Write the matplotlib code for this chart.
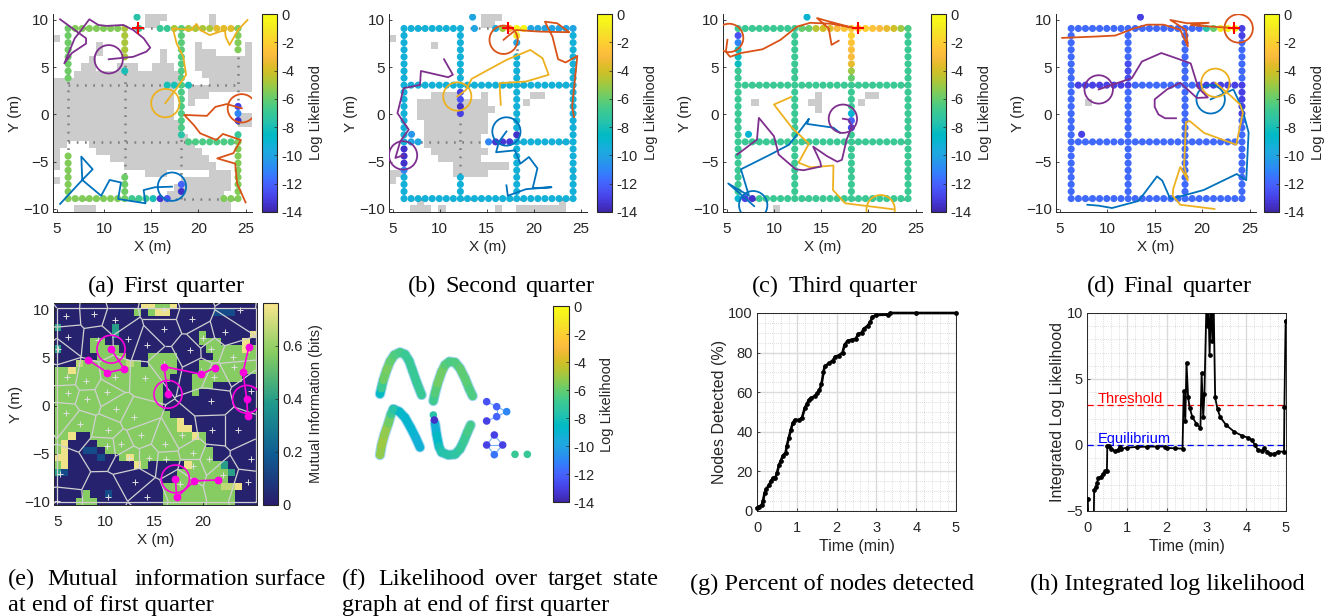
import numpy as np
import matplotlib
matplotlib.use('Agg')
import matplotlib.pyplot as plt
import matplotlib.tri as mtri
from matplotlib.colors import ListedColormap, LinearSegmentedColormap, Normalize
from matplotlib.collections import LineCollection
from matplotlib.colorbar import Colorbar
from matplotlib.patches import Circle

plt.rcParams['font.family'] = ['Liberation Sans', 'DejaVu Sans']

W, H = 1335, 616
DARK = (0.15, 0.15, 0.15)
BLUE = (0.0, 0.447, 0.741)
ORANGE = (0.85, 0.325, 0.098)
YELLOW = (0.929, 0.694, 0.125)
PURPLE = (0.494, 0.184, 0.556)
MAGENTA = (1.0, 0.0, 0.87)

parula_colors = [
    (.2422, .1504, .6603), (.2647, .1978, .7952), (.2783, .2559, .8991), (.2810, .3228, .9579),
    (.2699, .3892, .9906), (.2206, .4603, .9973), (.1786, .5289, .9682), (.1540, .5902, .9218),
    (.1248, .6459, .8883), (.0952, .6798, .8598), (.0297, .7082, .8163), (.0067, .7312, .7660),
    (.0964, .7500, .7120), (.1717, .7670, .6554), (.2161, .7843, .5923), (.2906, .7973, .5188),
    (.3909, .8029, .4354), (.5044, .7993, .3480), (.6174, .7876, .2612), (.7242, .7698, .1910),
    (.8203, .7498, .1535), (.9035, .7330, .1774), (.9728, .7298, .2394), (.9970, .7659, .2199),
    (.9892, .8136, .1885), (.9676, .8639, .1643), (.9597, .9135, .1423), (.9691, .9606, .1064),
    (.9769, .9839, .0805)]
parula = LinearSegmentedColormap.from_list('parula', parula_colors, N=256)
mi_cmap = LinearSegmentedColormap.from_list('mi', [(0.16, 0.11, 0.42), (0.06, 0.36, 0.58), (0.12, 0.60, 0.55),
                                                   (0.52, 0.80, 0.38), (0.98, 0.90, 0.55)])
ll_norm = Normalize(-14, 0)

# occupancy cells per row: (first col, last col)
gray_a = {0: [(13, 15), (22, 22)], 1: [(13, 14), (22, 22)], 3: [(0, 0)], 4: [(6, 6), (20, 20), (27, 27)],
          5: [(6, 6), (15, 15), (20, 22), (27, 27)], 6: [(5, 5), (15, 15), (20, 27)],
          7: [(4, 5), (9, 11), (14, 16), (20, 27)], 8: [(3, 17), (21, 27)], 9: [(0, 17), (22, 27)],
          10: [(0, 16), (19, 27)], 11: [(0, 16), (19, 21)], 12: [(0, 16), (19, 19)], 13: [(0, 16)],
          14: [(0, 16), (26, 27)], 15: [(0, 17), (26, 27)], 16: [(0, 17)], 17: [(0, 18)],
          18: [(0, 1), (5, 19)], 19: [(0, 0), (6, 20)], 20: [(0, 0), (8, 21)], 21: [(0, 0), (10, 22)],
          22: [(13, 15), (22, 24)], 23: [(0, 0), (18, 24)], 24: [(17, 24)], 25: [(16, 23)],
          26: [(15, 24)], 27: [(3, 5), (15, 24)]}
gray_b = {0: [(13, 15)], 1: [(13, 14)], 3: [(0, 0)], 4: [(6, 6)], 11: [(6, 9), (13, 13), (20, 21)],
          12: [(4, 13), (19, 19)], 13: [(4, 14)], 14: [(4, 13)], 15: [(5, 13)], 16: [(5, 13)], 17: [(5, 12)],
          18: [(5, 12)], 19: [(6, 13)], 20: [(7, 12)], 21: [(9, 16)], 22: [(0, 1), (9, 13)], 23: [(0, 0)],
          26: [(4, 4), (24, 24)], 27: [(3, 5), (7, 7), (15, 15), (18, 24)]}
gray_c = {11: [(13, 13), (20, 21)], 12: [(4, 4), (12, 13), (19, 19)], 13: [(13, 13)], 27: [(7, 7)]}
gray_d = {12: [(4, 4)]}

# (x0, y0, x1, y1, log likelihood); None removes the nodes
nodes_a = [(6.2, 9.1, 12.2, 9.1, -5.5), (13.7, 9.1, 13.7, 9.1, -7), (15.95, 9.1, 16.7, 9.1, -7),
           (17.45, 9.1, 21.2, 9.1, -4.8), (21.95, 9.1, 23.45, 9.1, -3.6), (24.2, 9.1, 24.2, 9.1, -5),
           (6.2, 9.1, 6.2, 3.85, -5.8), (6.2, -4.4, 6.2, -8.9, -5.5), (6.2, -8.9, 11.45, -8.9, -5.5),
           (12.2, -8.9, 14.45, -8.9, -6.8), (15.2, -8.9, 15.2, -8.9, -8), (15.95, -8.9, 15.95, -8.9, -13.3),
           (16.7, -8.9, 16.7, -8.9, -12.5), (22.7, -8.9, 24.2, -8.9, -5.5), (12.2, 9.1, 12.2, 6.1, -4.8),
           (12.2, 4.6, 12.2, 4.6, -8), (12.2, -6.65, 12.2, -8.9, -5.8), (18.2, 9.1, 18.2, 6.85, -6.2),
           (18.2, 6.1, 18.2, 3.85, -6.5), (18.2, 3.1, 18.2, -1.4, -6.5), (18.2, -2.15, 18.2, -2.15, -7.5),
           (18.2, -7.4, 18.2, -7.4, -12), (18.2, -8.15, 18.2, -8.15, -13.5), (16.7, 3.1, 17.45, 3.1, -8),
           (18.95, 3.1, 18.95, 3.1, -8), (18.95, -2.9, 24.2, -2.9, -6.5), (24.2, 9.1, 24.2, 6.85, -5.5),
           (24.2, 0.85, 24.2, 0.85, -13), (24.2, 0.1, 24.2, 0.1, -11), (24.2, -0.65, 24.2, -0.65, -13.5),
           (24.2, -2.15, 24.2, -2.15, -7), (24.2, -2.9, 24.2, -8.9, -5.5), (13.5, 10.3, 13.5, 10.3, -7.5)]
nodes_b = [(12.95, 9.1, 12.95, 9.1, None), (14.45, 9.1, 15.2, 9.1, None), (13.7, 9.1, 13.7, 9.1, -10),
           (15.95, 9.1, 15.95, 9.1, -9.5), (16.7, 9.1, 16.7, 9.1, -5), (17.45, 9.1, 17.45, 9.1, -3),
           (18.2, 9.1, 18.95, 9.1, -0.3), (19.7, 9.1, 24.2, 9.1, -10), (18.2, 8.35, 18.2, 8.35, -1),
           (18.2, 7.6, 18.2, 7.6, -10), (18.2, 6.85, 18.2, 6.85, None), (12.2, 2.35, 12.2, 2.35, -13),
           (12.2, 1.6, 12.2, 1.6, -12.5), (12.2, 0.85, 12.2, 0.85, -13.5), (12.2, 0.1, 12.2, 0.1, -13),
           (12.2, -0.65, 12.2, -5.9, None), (8.45, -2.9, 14.45, -2.9, None), (6.95, -2.9, 7.7, -2.9, -10),
           (15.2, -2.9, 15.2, -2.9, -11), (15.95, -2.9, 17.45, -2.9, -13.3), (18.2, -2.15, 18.2, -2.15, -13.5),
           (6.2, -3.65, 6.2, -5.15, -13.5), (6.2, -5.9, 6.2, -5.9, -11), (7.0, -2.1, 7.0, -2.1, -10.5),
           (13.5, 10.3, 13.5, 10.3, -10)]
nodes_c = [(12.95, 9.1, 13.7, 9.1, -6), (14.45, 9.1, 14.45, 9.1, -4.5), (15.2, 9.1, 15.2, 9.1, -4),
           (15.95, 9.1, 15.95, 9.1, -3.7), (16.7, 9.1, 16.7, 9.1, -3), (17.45, 9.1, 18.2, 9.1, -2.5),
           (18.95, 9.1, 18.95, 9.1, -1.5), (19.7, 9.1, 19.7, 9.1, -2), (20.45, 9.1, 20.45, 9.1, -2.5),
           (21.2, 9.1, 21.2, 9.1, -3), (21.95, 9.1, 21.95, 9.1, -3.5), (22.7, 9.1, 22.7, 9.1, -4),
           (23.45, 9.1, 23.45, 9.1, -5), (24.2, 9.1, 24.2, 9.1, -6.5), (18.2, 8.35, 18.2, 8.35, -2),
           (18.2, 7.6, 18.2, 7.6, -2.5), (18.2, 6.85, 18.2, 6.85, -2.8), (18.2, 6.1, 18.2, 6.1, -3),
           (18.2, 5.35, 18.2, 5.35, -3.5), (18.2, 4.6, 18.2, 4.6, -5), (18.2, 3.85, 18.2, 3.85, -6),
           (18.2, 0.1, 18.2, 0.1, -9), (18.2, -0.65, 18.2, -0.65, -12), (18.2, -1.4, 18.2, -1.4, -13),
           (6.2, 8.35, 6.2, 8.35, -12.5), (6.2, 7.6, 6.2, 7.6, -11), (6.2, 6.85, 6.2, 5.35, -8.3),
           (7.3, -2.1, 7.3, -2.1, -9), (13.5, 10.3, 13.5, 10.3, -9), (6.2, -8.9, 6.2, -8.9, -9),
           (6.95, -8.9, 6.95, -8.9, -13), (7.7, -8.9, 7.7, -8.9, -13.5)]
nodes_d = [(6.95, 3.1, 12.2, 3.1, -13), (19.7, 3.1, 24.2, 3.1, -13), (24.2, 3.1, 24.2, 0.1, -13),
           (12.2, 5.35, 12.2, 3.85, -12.6), (24.2, 9.1, 24.2, 8.35, -13), (20.45, 9.1, 20.45, 9.1, -7.5),
           (21.2, 9.1, 21.2, 9.1, -6), (21.95, 9.1, 21.95, 9.1, -1), (22.7, 9.1, 23.45, 9.1, -0.5),
           (13.5, 10.3, 13.5, 10.3, -13), (7.3, -2.1, 7.3, -2.1, -13)]
base_b, base_c, base_d = -9.3, -6.9, -11.8

lattice_x = [6.2, 12.2, 18.2, 24.2]
lattice_y = [-8.9, -2.9, 3.1, 9.1]

paths_a = {
    'purple': [(5.35, 10.07), (8.1, 8.06), (8.1, 7.5), (6.6, 6.5), (5.8, 5.4), (6.9, 8.06), (7.47, 8.77), (8.45, 10.07),
               (9.4, 9.47), (10.3, 9.37), (12.05, 9.47), (13.1, 8.94), (14.2, 8.06), (14.9, 7.07), (14.5, 6.65),
               (13.1, 6.1), (10.5, 5.84)],
    'yellow': [(25.2, 10), (24.2, 8.94), (23.3, 7.35), (22.9, 8.2), (22.8, 8.94), (21.2, 8.4), (20.2, 8.94), (19.8, 9.58),
               (19.3, 8.94), (17.3, 9.1), (17.7, 7.5), (18.4, 6.1), (18.7, 4.2), (17.7, 2.77), (16.5, 1.2)],
    'orange': [(25, -9.3), (24.1, -7.3), (23.9, -5.2), (22, -4.65), (23.7, -4.1), (24.5, -2.7), (22.6, -2.06), (21.9, -2.7),
               (20.2, -2), (19.5, -1.1), (18.5, -0.05), (20.9, -0.15), (21.8, 0.8), (23, 1.1), (24.6, 0.65)],
    'blue': [(5.35, -9.47), (7.7, -6.93), (7.6, -4.46), (8.8, -5.8), (7.7, -6.93), (9.7, -8.6), (10.6, -6.93), (11.8, -7.2),
             (11.5, -8.94), (14.4, -9.4), (14.2, -8), (15.4, -7.7), (17.2, -7.64)]}
paths_b = {
    'purple': [(10.46, 5.84), (11.4, 4.2), (10.9, 3.94), (8, 4.6), (7.9, 3.13), (6.16, 2.78), (5.5, 0.14), (6.7, -1.6),
               (5.8, -2.85), (5.28, -4.6), (6.1, -4.33)],
    'yellow': [(16.5, 1.02), (16.37, 3.31), (19.2, 3.49), (21.6, 4.2), (20.95, 5.95), (19.65, 6.83), (17.1, 5.77),
               (13.4, 3.77), (12.8, 2.6), (11.87, 1.9)],
    'orange': [(24.3, -0.28), (24.1, 0.85), (24.65, 6.2), (23.4, 5.5), (22.6, 5.85), (22, 8.24), (21.2, 9.82), (22.5, 9.65),
               (23.8, 8.7), (20.6, 8.77), (18.1, 8.94), (17.4, 8.4), (16.8, 7.9)],
    'blue': [(17.1, -7.5), (17.25, -8.6), (19.2, -7.9), (21.9, -7.7), (19.9, -7.8), (20.4, -5.7), (19.5, -4.5), (18.6, -5.2),
             (18, -3.8), (16, -4), (16.3, -2.9), (17.1, -1.8)]}
paths_c = {
    'purple': [(6.1, -4.25), (8.2, -2.65), (8.4, -0.36), (10, -2.3), (10.5, -4.25), (12.3, -5.8), (13.15, -5.9), (15, -5.5),
               (14.9, -5), (14.15, -3.4), (15.6, -4.4), (16.7, -5), (17.2, -4.8), (17.7, -2.65), (18.25, -1.25),
               (17.9, -0.55), (17.3, -0.45)],
    'yellow': [(11.8, 1.85), (10, 1.05), (11.9, -1.4), (13.7, -3.1), (12.6, -5.1), (13.85, -5.6), (16.3, -5.4), (16.25, -8),
               (17.55, -9.4), (22.6, -10.03)],
    'orange': [(16.85, 7.8), (16.1, 7.36), (15.8, 9.1), (14.56, 10.2), (15.6, 9.9), (18.25, 9.2), (16, 9.6), (13.85, 9.7),
               (12.45, 9.3), (10.7, 7.9), (8.8, 6.9), (6.5, 6.5), (5.35, 6.1), (4.9, 6.65), (5.07, 7.9)],
    'blue': [(17, -1.95), (16.3, -1.4), (13.5, -1), (13.7, -0.45), (13, -1.4), (11.6, -3.2), (9.6, -4.25), (6.5, -5.8),
             (7.35, -8.6), (5.15, -7.3), (7, -8.9), (7.9, -9.7)]}
paths_d = {
    'purple': [(17.25, -0.4), (16.1, -0.4), (15.4, 0), (15, 0.8), (15, 1.6), (16.3, 2.65), (17.7, 3.35), (19.45, 1.75),
               (20.6, 1.8), (19.6, 2.8), (18.8, 5.4), (17, 6.05), (15.7, 6.5), (13.65, 5.6), (12.6, 3.85), (9.1, 2.65)],
    'yellow': [(21.3, -10), (17.7, -9.55), (16.9, -8.6), (16.95, -7.9), (17.7, -5.55), (18.5, -7), (18.1, -5.45), (18.3, -0.8),
               (18.7, -0.7), (20.2, -1.95), (23.6, -3.2), (24.3, 0.2), (24, 1.05), (23.1, 1.9), (21.4, 3.35)],
    'orange': [(5.25, 8.1), (8.9, 8.25), (10.85, 8.35), (12.8, 9.1), (14.2, 9.5), (15.95, 9.5), (17.7, 8.95), (18.5, 7.2),
               (18.3, 8.95), (16.65, 10), (18.4, 9.65), (20.7, 9.7), (18.8, 9.45), (23.85, 9.1)],
    'blue': [(7.9, -9.55), (9.1, -9.65), (10.5, -9.9), (13.3, -9.15), (15.25, -6.55), (15.8, -7), (16.65, -8.95), (20.15, -8),
             (23.65, -6.3), (24.65, -6.95), (24.9, -1.9), (24.2, 0.7), (23.3, 2.65), (20.9, 1.6)]}
circles_a = {'purple': (10.5, 5.84), 'yellow': (16.5, 1.2), 'orange': (24.6, 0.65), 'blue': (17.2, -7.64)}
circles_b = {'purple': (6.1, -4.33), 'yellow': (11.87, 1.9), 'orange': (16.8, 7.9), 'blue': (17.1, -1.8)}
circles_c = {'purple': (17.3, -0.45), 'yellow': (21.3, -10.03), 'orange': (5.25, 8.1), 'blue': (7.8, -9.6)}
circles_d = {'purple': (9.1, 2.65), 'yellow': (21.4, 3.35), 'orange': (23.85, 9.1), 'blue': (20.9, 1.6)}
cross_a, cross_b, cross_c, cross_d = (13.6, 9.1), (17.25, 9.1), (18.85, 9.1), (23.4, 9.1)

# mutual information cells: g green, l light, y pale yellow, t teal, b blue, . low
mi_rows = ['............yyggy...........',
           '...........g.gyy......bbb...',
           '............................',
           't.......t...................',
           '........t...........g......y',
           '.....gg.............ggg...y.',
           't....gggg............gggggyg',
           '......gggg...gggg.....gggggg',
           '...lgggggglg.gggg...gggggggg',
           'ggygggggggggggggg...gggggggg',
           'gggggggggggggggg...ggggggg..',
           'ggggggggggggggg....ggg......',
           'ggggggggggggggg....g........',
           'ggggggggggggggg.............',
           'ggggggggggggggg.............',
           'gggggggggggggggg............',
           'gggggggggggggggggy..........',
           'gggggggggggggggggyy.........',
           'ggy..ggggggggggggggyg.......',
           'gy....ggggggggggggggg.......',
           'gy..bb.ggggggggggggggg......',
           'yy....b..gyggggggggggg......',
           'gy.........yg.....yggggt....',
           'tb...............gggggggt...',
           '.................ggggggg....',
           '...............gggggggglly..',
           '....g..b.......gggggggggg...',
           '...ggg.........gggggggggg...']
mi_levels = {'.': 0.02, 'b': 0.14, 't': 0.40, 'g': 0.575, 'l': 0.66, 'y': 0.74}
voronoi_sites = [(5.9, 9.4), (8.8, 9.6), (16.0, 10.0), (18.9, 9.1), (23.8, 10.0), (11.0, 8.9), (16.0, 8.0), (12.3, 7.0),
                 (9.2, 6.9), (6.1, 7.2), (5.1, 5.9), (14.3, 6.3), (18.7, 5.8), (20.0, 7.1), (20.9, 5.9), (23.1, 5.1),
                 (22.3, 7.7), (16.0, 4.4), (14.0, 2.9), (11.0, 3.0), (6.0, 3.0), (8.0, 2.6), (6.1, 1.3), (10.1, 1.4),
                 (5.9, -0.8), (8.1, 0.7), (11.1, -0.3), (12.9, -1.2), (7.3, -1.9), (10.2, -2.5), (13.6, -3.1),
                 (11.6, -4.0), (16.1, -4.0), (10.1, -4.2), (17.9, -3.0), (20.9, 0.5), (21.0, -2.5), (23.6, -2.5),
                 (19.0, -4.9), (12.4, -5.4), (14.5, -5.4), (20.7, -5.6), (16.2, -5.6), (25.0, -5.5), (5.3, -7.1),
                 (13.0, -8.0), (24.7, -8.0), (17.7, -8.2), (14.3, -9.5), (10.2, -9.5), (22.1, -7.2), (19.0, -6.3),
                 (21.2, 3.0), (19.8, 3.6), (23.2, 4.0), (25.0, 1.5), (5.0, -9.9)]
mag_paths = [[(10.54, 5.9), (11.91, 3.84), (10.16, 3.46), (8.2, 4.78)],
             [(16.42, 1.2), (16.0, 4.09), (19.86, 3.29), (21.27, 3.98)],
             [(24.64, -1.03), (24.54, 0.68), (24.16, 3.5), (24.75, 6.1)],
             [(17.18, -7.63), (17.32, -9.55), (19.14, -7.84), (21.58, -7.74)]]

# layout of the state graph: (x, y, log likelihood)
arch_1 = [(120, 297, -9.5), (124, 280, -7.5), (130, 255, -6.2), (140, 225, -5.5), (150, 200, -5.8), (163, 180, -6.3),
          (180, 172, -6.5), (195, 178, -6.8), (207, 197, -7), (217, 225, -7), (230, 262, -7), (245, 300, -7)]
arch_2 = [(280, 318, -7), (285, 295, -6.5), (293, 265, -6), (305, 230, -5.5), (315, 210, -6), (328, 200, -6.5),
          (345, 202, -6.5), (360, 220, -6.2), (375, 250, -6), (388, 282, -6.3), (398, 303, -6.5)]
arch_3 = [(120, 480, -5.5), (125, 450, -5), (133, 420, -5), (145, 385, -5.5), (153, 358, -6.2), (160, 342, -7.5),
          (178, 350, -8.5), (195, 368, -8.8), (212, 398, -9), (228, 430, -9), (240, 457, -9.5)]
arch_4 = [(285, 385, -9.5), (290, 420, -9), (297, 455, -8.2), (305, 472, -7.8), (325, 480, -7.5), (345, 478, -7.5),
          (360, 462, -7.2), (372, 437, -7), (382, 412, -6.8), (392, 390, -6.5)]
graph_points = [(160, 342, -7.5), (280, 360, -7.5), (283, 375, -13.5), (440, 320, -12.5), (470, 335, -12), (500, 350, -11),
                (470, 365, -12), (440, 378, -13), (463, 420, -13), (440, 450, -13), (488, 450, -13), (463, 479, -11.5),
                (525, 478, -7), (562, 478, -7)]
graph_edges = [(3, 4), (4, 5), (5, 6), (6, 7), (4, 6), (8, 9), (8, 10), (9, 11), (10, 11), (9, 10)]

time_g = [0, 0.05, 0.12, 0.15, 0.19, 0.23, 0.3, 0.35, 0.4, 0.46, 0.5, 0.55, 0.6, 0.65, 0.72, 0.75, 0.8, 0.85, 0.9, 0.95,
          1.05, 1.13, 1.2, 1.25, 1.3, 1.35, 1.45, 1.52, 1.57, 1.62, 1.67, 1.7, 1.8, 1.9, 1.97, 2.05, 2.15, 2.2, 2.28, 2.38,
          2.48, 2.55, 2.63, 2.68, 2.78, 2.85, 2.9, 3.0, 3.3, 3.35, 4, 5]
detected = [1.5, 2.2, 3, 5, 9, 11, 13, 15, 16.7, 16.7, 19, 23, 25.5, 28, 29.5, 33, 37, 41, 44.5, 46,
            46, 47, 52, 54, 56, 57, 58, 59.5, 61, 64, 70, 73, 74.5, 76, 78, 78.5, 80, 84, 86, 86.5,
            87, 89.5, 90, 92, 93.5, 95.5, 98, 99, 99.2, 100, 100, 100]
time_h = [0, 0.02, 0.03, 0.17, 0.18, 0.22, 0.25, 0.28, 0.35, 0.4, 0.45, 0.5, 0.51, 0.55, 0.6, 0.7, 0.78, 0.82, 0.85, 1, 1.25,
          1.5, 1.75, 1.95, 2.0, 2.2, 2.4, 2.43, 2.47, 2.5, 2.54, 2.58, 2.65, 2.75, 2.85, 2.88, 2.92, 2.95, 3, 3.03, 3.05, 3.08,
          3.12, 3.15, 3.18, 3.22, 3.28, 3.35, 3.5, 3.7, 3.9, 4.05, 4.15, 4.22, 4.3, 4.4, 4.45, 4.52, 4.6, 4.7, 4.8, 4.95,
          4.96, 4.99, 5]
integrated = [-4.1, -4.1, -5.5, -5.5, -3.4, -3.2, -2.9, -2.5, -2.4, -2.2, -2.0, -1.95, -0.1, -0.1, -0.3, -0.45, -0.4, -0.15,
              -0.3, -0.2, -0.15, -0.13, -0.12, -0.12, -0.22, -0.25, -0.28, 4.1, 1.8, 6.25, 3.65, 2.8, 2.1, 1.6, 1.3, 5.45, 2.1,
              3.9, 10.5, 9, 11, 6.8, 11, 7.9, 11, 3.6, 2.7, 2.1, 1.5, 1, 0.7, 0.55, 0.35, 0, -0.4, -0.42, -0.25, -0.5, -0.65,
              -0.65, -0.5, -0.5, 2.9, 9.4, 9.4]
threshold, equilibrium = 3, 0

fig = plt.figure(figsize=(W / 100, H / 100), dpi=100)


def px_axes(l, t, r, b):
    return fig.add_axes([l / W, 1 - b / H, (r - l) / W, (b - t) / H])


def style(ax, xlabel, ylabel, box=False, size=11, lsize=11):
    ax.tick_params(direction='in', length=2.5, width=0.6, colors=DARK, labelsize=size, pad=3)
    ax.tick_params(axis='x', pad=7)
    for s in ax.spines.values():
        s.set_linewidth(0.7)
        s.set_color(DARK)
    if not box:
        ax.spines['top'].set_visible(False)
        ax.spines['right'].set_visible(False)
    ax.set_xlabel(xlabel, fontsize=lsize, color=DARK, labelpad=3)
    ax.set_ylabel(ylabel, fontsize=lsize, color=DARK, labelpad=1)


def colorbar(l, t, r, b, cmap, norm, ticks, labels, label, pad=5):
    cax = px_axes(l, t, r, b)
    cb = Colorbar(cax, cmap=cmap, norm=norm, ticks=ticks)
    cb.set_ticklabels(labels)
    cax.tick_params(direction='in', length=2, width=0.5, colors=DARK, labelsize=10.5, pad=3)
    cb.outline.set_linewidth(0.8)
    cb.outline.set_edgecolor(DARK)
    cb.set_label(label, fontsize=10.5, color=DARK, rotation=90, labelpad=pad)
    cax.yaxis.set_label_position('right')


def segment_nodes(store, seg):
    x0, y0, x1, y1, v = seg
    n = int(round(max(abs(x1 - x0), abs(y1 - y0)) / 0.75)) + 1
    for x, y in zip(np.linspace(x0, x1, n), np.linspace(y0, y1, n)):
        key = (round(float(x), 2), round(float(y), 2))
        if v is None:
            store.pop(key, None)
        else:
            store[key] = v


def full_lattice(v):
    edges = []
    for x in lattice_x:
        edges.append((x, lattice_y[0], x, lattice_y[-1], v))
    for y in lattice_y:
        edges.append((lattice_x[0], y, lattice_x[-1], y, v))
    return edges


def quarter_panel(box, cbox, gray, segs, base, paths, circles, cross):
    ax = px_axes(*box)
    ax.set_xlim(4.6, 25.68)
    ax.set_ylim(-10.32, 10.63)
    mask = np.zeros((28, 28))
    for row, spans in gray.items():
        for a, b in spans:
            mask[row, a:b + 1] = 1
    ax.imshow(mask, extent=[4.6, 25.68, -10.32, 10.63], aspect='auto', interpolation='nearest',
              cmap=ListedColormap(['white', (0.8, 0.8, 0.8)]), vmin=0, vmax=1, zorder=1)
    for x in lattice_x:
        ax.plot([x, x], [lattice_y[0], lattice_y[-1]], ls=(0, (0.7, 2.6)), color=(0.5, 0.5, 0.5), lw=1.8, zorder=2)
    for y in lattice_y:
        ax.plot([lattice_x[0], lattice_x[-1]], [y, y], ls=(0, (0.7, 2.6)), color=(0.5, 0.5, 0.5), lw=1.8, zorder=2)
    store = {}
    start = full_lattice(base) if base is not None else []
    for seg in start + segs:
        segment_nodes(store, seg)
    xy = np.array(list(store.keys()))
    ax.scatter(xy[:, 0], xy[:, 1], c=list(store.values()), cmap=parula, norm=ll_norm, s=26, linewidths=0, zorder=3)
    colors = {'purple': PURPLE, 'yellow': YELLOW, 'orange': ORANGE, 'blue': BLUE}
    for name in ['blue', 'orange', 'yellow', 'purple']:
        p = np.array(paths[name])
        ax.plot(p[:, 0], p[:, 1], color=colors[name], lw=1.3, zorder=4)
        ax.add_patch(Circle(circles[name], 1.5, fill=False, ec=colors[name], lw=1.3, zorder=4))
    ax.plot(*cross, marker='+', color='red', ms=9, mew=1.5, zorder=5)
    ax.set_xticks([5, 10, 15, 20, 25])
    ax.set_yticks([-10, -5, 0, 5, 10])
    style(ax, 'X (m)', 'Y (m)')
    colorbar(*cbox, parula, ll_norm, list(range(-14, 1, 2)), [str(t) for t in range(-14, 1, 2)], 'Log Likelihood')


quarter_panel((53, 14, 252, 212), (262, 14, 277, 212), gray_a, nodes_a, None, paths_a, circles_a, cross_a)
quarter_panel((389, 14, 587, 212), (597, 14, 612, 212), gray_b, nodes_b, base_b, paths_b, circles_b, cross_b)
quarter_panel((723, 14, 922, 212), (931, 14, 946, 212), gray_c, nodes_c, base_c, paths_c, circles_c, cross_c)
quarter_panel((1056, 14, 1256, 212), (1264, 14, 1279, 212), gray_d, nodes_d, base_d, paths_d, circles_d, cross_d)

# (e)
ax = px_axes(54, 303, 257, 505)
xl, yl = (4.66, 25.6), (-10.35, 10.72)
ax.set_xlim(*xl)
ax.set_ylim(*yl)
mi = np.array([[mi_levels[c] for c in r.ljust(28, '.')] for r in mi_rows])
ax.imshow(mi, extent=[xl[0], xl[1], yl[0], yl[1]], aspect='auto', interpolation='nearest', cmap=mi_cmap, vmin=0, vmax=0.76)
sx = np.array([s[0] for s in voronoi_sites])
sy = np.array([s[1] for s in voronoi_sites])
bx0, bx1, by0, by1 = 4.95, 25.45, -10.0, 10.2
ghost_x = np.concatenate([sx, 2 * bx0 - sx, 2 * bx1 - sx, sx, sx])
ghost_y = np.concatenate([sy, sy, sy, 2 * by0 - sy, 2 * by1 - sy])
tr = mtri.Triangulation(ghost_x, ghost_y)
a_, b_, c_ = [np.column_stack([tr.x[tr.triangles[:, i]], tr.y[tr.triangles[:, i]]]) for i in range(3)]
d = 2 * (a_[:, 0] * (b_[:, 1] - c_[:, 1]) + b_[:, 0] * (c_[:, 1] - a_[:, 1]) + c_[:, 0] * (a_[:, 1] - b_[:, 1]))
ux = ((a_ ** 2).sum(1) * (b_[:, 1] - c_[:, 1]) + (b_ ** 2).sum(1) * (c_[:, 1] - a_[:, 1]) + (c_ ** 2).sum(1) * (a_[:, 1] - b_[:, 1])) / d
uy = ((a_ ** 2).sum(1) * (c_[:, 0] - b_[:, 0]) + (b_ ** 2).sum(1) * (a_[:, 0] - c_[:, 0]) + (c_ ** 2).sum(1) * (b_[:, 0] - a_[:, 0])) / d
cells = []
for i, nb in enumerate(tr.neighbors):
    for j in nb:
        if j > i:
            cells.append([(ux[i], uy[i]), (ux[j], uy[j])])
ax.add_collection(LineCollection(cells, colors=[(0.82, 0.82, 0.82)], linewidths=0.9, zorder=3))
ax.set_xlim(*xl)
ax.set_ylim(*yl)
ax.plot(sx, sy, '+', color=(0.88, 0.88, 0.88), ms=5, mew=0.7, zorder=3)
for path, center in zip(mag_paths, [0, 0, 1, 0]):
    p = np.array(path)
    ax.plot(p[:, 0], p[:, 1], '-o', color=MAGENTA, lw=1.2, ms=4.6, zorder=4)
    ax.add_patch(Circle(p[center], 1.45, fill=False, ec=MAGENTA, lw=1.2, zorder=4))
ax.set_xticks([5, 10, 15, 20])
ax.set_yticks([-10, -5, 0, 5, 10])
style(ax, 'X (m)', 'Y (m)', box=True)
colorbar(263, 303, 278, 505, mi_cmap, Normalize(0, 0.76), [0, 0.2, 0.4, 0.6], ['0', '0.2', '0.4', '0.6'],
         'Mutual Information (bits)', pad=5)

# (f)
ax = px_axes(340 + 100 / 3, 295 + 150 / 3, 340 + 600 / 3, 295 + 500 / 3)
ax.set_xlim(100, 600)
ax.set_ylim(500, 150)
ax.axis('off')
for arch in [arch_1, arch_2, arch_3, arch_4]:
    p = np.array(arch)
    ax.plot(p[:, 0], p[:, 1], color=(0.62, 0.84, 0.95), lw=7.5, solid_capstyle='round', solid_joinstyle='round', zorder=1)
    segs = [[p[i, :2], p[i + 1, :2]] for i in range(len(p) - 1)]
    vals = [(p[i, 2] + p[i + 1, 2]) / 2 for i in range(len(p) - 1)]
    lc = LineCollection(segs, cmap=parula, norm=ll_norm, linewidths=6, capstyle='round', zorder=2)
    lc.set_array(np.array(vals))
    ax.add_collection(lc)
gp = np.array(graph_points)
for i, j in graph_edges:
    ax.plot(gp[[i, j], 0], gp[[i, j], 1], color=(0.45, 0.7, 0.95), lw=0.8, zorder=1)
ax.scatter(gp[:, 0], gp[:, 1], c=gp[:, 2], cmap=parula, norm=ll_norm, s=30, linewidths=0, zorder=3)
colorbar(553, 306, 569, 502, parula, ll_norm, list(range(-14, 1, 2)), [str(t) for t in range(-14, 1, 2)], 'Log Likelihood', pad=4)


def time_panel(box, t, v, ylim, yticks, ylabel, yminor, lw, clip):
    ax = px_axes(*box)
    ax.set_xlim(0, 5)
    ax.set_ylim(*ylim)
    ax.set_xticks(range(6))
    ax.set_yticks(yticks)
    ax.set_xticks(np.arange(0, 5.01, 0.2), minor=True)
    ax.set_yticks(yminor, minor=True)
    ax.grid(True, which='major', color=(0.86, 0.86, 0.86), lw=1.0)
    ax.grid(True, which='minor', color=(0.75, 0.75, 0.75), lw=0.5, ls=(0, (1, 2)))
    ax.tick_params(which='minor', length=0)
    ax.set_axisbelow(True)
    ax.plot(t, v, '-', color='black', lw=lw, marker='o', ms=2.4, zorder=4, clip_on=clip)
    style(ax, 'Time (min)', ylabel, box=True, size=10.5, lsize=11.5)
    return ax


time_panel((757, 313, 956, 511), time_g, detected, (0, 100), [0, 20, 40, 60, 80, 100], 'Nodes Detected (%)',
           np.arange(0, 100.1, 5), 1.9, False)
ax = time_panel((1087, 313, 1286, 511), time_h, integrated, (-5, 10), [-5, 0, 5, 10], 'Integrated Log Likelihood',
                np.arange(-5, 10.01, 1), 1.3, True)
ax.axhline(threshold, color='red', ls=(0, (5, 3)), lw=0.9, zorder=3)
ax.axhline(equilibrium, color='blue', ls=(0, (5, 3)), lw=0.9, zorder=3)
ax.text(0.27, threshold - 0.07, 'Threshold', color='red', fontsize=10.5, va='bottom')
ax.text(0.27, equilibrium - 0.05, 'Equilibrium', color='blue', fontsize=10.5, va='bottom')


def caption(words, y):
    for x, s in words:
        fig.text(x / W, 1 - y / H, s, fontsize=17.5, family=['Liberation Serif', 'DejaVu Serif'], color='black',
                 va='baseline', ha='left')


caption([(88, '(a)'), (123, 'First'), (175, 'quarter')], 292)
caption([(408, '(b)'), (445, 'Second'), (525, 'quarter')], 292)
caption([(752, '(c)'), (789, 'Third'), (848, 'quarter')], 292)
caption([(1087, '(d)'), (1123, 'Final'), (1182, 'quarter')], 292)
caption([(8, '(e)'), (47, 'Mutual'), (135, 'information'), (255, 'surface')], 585)
caption([(8, 'at end of first quarter')], 611)
caption([(342, '(f)'), (378, 'Likelihood'), (494, 'over'), (548, 'target'), (613, 'state')], 585)
caption([(342, 'graph at end of first quarter')], 611)
caption([(690, '(g) Percent of nodes detected')], 590)
caption([(1030, '(h) Integrated log likelihood')], 590)

fig.savefig('out.png', dpi=100)
